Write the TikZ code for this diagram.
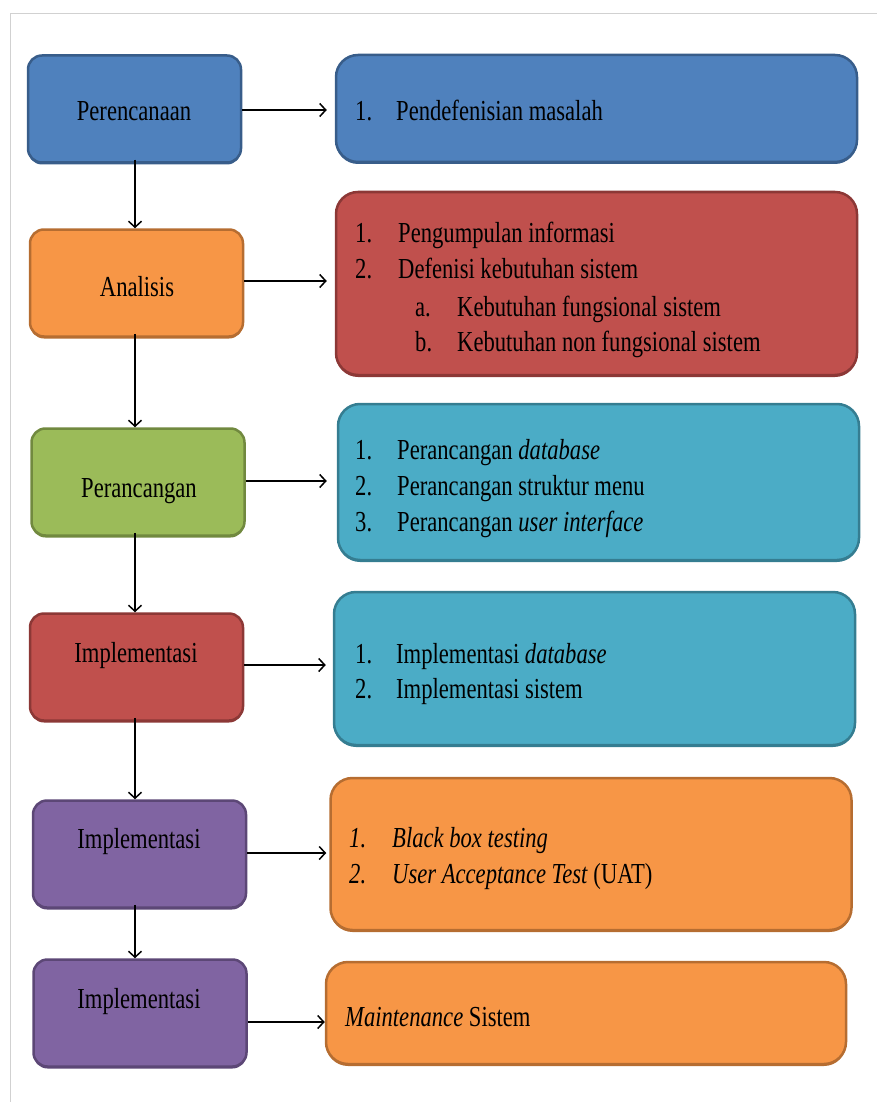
\documentclass[tikz,border=0pt]{standalone}
\usepackage{fontspec}
\setmainfont[FakeStretch=0.78]{Liberation Serif}
\usetikzlibrary{arrows.meta}
\definecolor{blueF}{HTML}{4F81BD}\definecolor{blueD}{HTML}{385D8A}
\definecolor{redF}{HTML}{C0504D}\definecolor{redD}{HTML}{8C3836}
\definecolor{orgF}{HTML}{F79646}\definecolor{orgD}{HTML}{B66D31}
\definecolor{grnF}{HTML}{9BBB59}\definecolor{grnD}{HTML}{71893F}
\definecolor{tealF}{HTML}{4BACC6}\definecolor{tealD}{HTML}{357D91}
\definecolor{purF}{HTML}{8064A2}\definecolor{purD}{HTML}{5C4776}
\tikzset{
  box/.style 2 args={draw=#2, fill=#1, line width=2.5pt, inner sep=0pt,
    preaction={fill=#2, transform canvas={yshift=-2pt}}},
  stage/.style={rounded corners=14pt, minimum width=213pt, minimum height=107pt},
  detail/.style={rounded corners=22pt, minimum width=521pt},
  txt/.style={inner sep=0pt, font=\fontsize{29}{35}\selectfont},
  arr/.style={line width=1.5pt, -{Straight Barb[length=6pt,width=13pt,line width=1.5pt]}},
}
\begin{document}
\begin{tikzpicture}[x=1pt, y=-1pt]
\useasboundingbox (0,0) rectangle (877,1102);
% thin page frame
\draw[black!18, line width=1pt] (10,1102) -- (10,14) -- (877,14);
\coordinate (spine) at (135,0);

% stages on the left
\node[box={blueF}{blueD}, stage] (s1) at (134.5,109) {};
\node[box={orgF}{orgD},  stage] (s2) at (136.5,283) {};
\node[box={grnF}{grnD},  stage] (s3) at (138,482) {};
\node[box={redF}{redD},  stage] (s4) at (136.5,667) {};
\node[box={purF}{purD},  stage] (s5) at (139.5,854) {};
\node[box={purF}{purD},  stage] (s6) at (140,1013) {};

\node[txt, anchor=base] (t1) at (134,121) {Perencanaan};
\node[txt, anchor=base] (t2) at (137,296) {Analisis};
\node[txt, anchor=base] (t3) at (139,497) {Perancangan};
\node[txt, anchor=base] (t4) at (136,662) {Implementasi};
\node[txt, anchor=base] (t5) at (139,848) {Implementasi};
\node[txt, anchor=base] (t6) at (139,1008) {Implementasi};

% activities on the right
\node[box={blueF}{blueD}, detail, minimum height=107pt] (d1) at (596.5,108.5) {};
\node[box={redF}{redD},   detail, minimum height=183pt] (d2) at (596.5,283.5) {};
\node[box={tealF}{tealD}, detail, minimum height=156pt] (d3) at (598.5,482) {};
\node[box={tealF}{tealD}, detail, minimum height=153pt] (d4) at (594.5,668.5) {};
\node[box={orgF}{orgD},   detail, minimum height=152pt] (d5) at (591,854) {};
\node[box={orgF}{orgD},   detail, minimum height=102pt, minimum width=520pt] (d6) at (586,1013) {};

\node[txt, anchor=base west] (n11) at (355,121) {1.};
\node[txt, anchor=base west] (l11) at (396,121) {Pendefenisian masalah};

\node[txt, anchor=base west] (n21) at (355,242) {1.};
\node[txt, anchor=base west] (l21) at (398,242) {Pengumpulan informasi};
\node[txt, anchor=base west] (n22) at (355,278) {2.};
\node[txt, anchor=base west] (l22) at (398,278) {Defenisi kebutuhan sistem};
\node[txt, anchor=base west] (n23) at (415,316) {a.};
\node[txt, anchor=base west] (l23) at (457,316) {Kebutuhan fungsional sistem};
\node[txt, anchor=base west] (n24) at (415,351) {b.};
\node[txt, anchor=base west] (l24) at (457,351) {Kebutuhan non fungsional sistem};

\node[txt, anchor=base west] (n31) at (355,459) {1.};
\node[txt, anchor=base west] (l31) at (397,459) {Perancangan \textit{database}};
\node[txt, anchor=base west] (n32) at (355,495) {2.};
\node[txt, anchor=base west] (l32) at (397,495) {Perancangan struktur menu};
\node[txt, anchor=base west] (n33) at (355,531) {3.};
\node[txt, anchor=base west] (l33) at (397,531) {Perancangan \textit{user interface}};

\node[txt, anchor=base west] (n41) at (355,663) {1.};
\node[txt, anchor=base west] (l41) at (396,663) {Implementasi \textit{database}};
\node[txt, anchor=base west] (n42) at (355,698) {2.};
\node[txt, anchor=base west] (l42) at (396,698) {Implementasi sistem};

\node[txt, anchor=base west] (n51) at (349,847) {\textit{1.}};
\node[txt, anchor=base west] (l51) at (392,847) {\textit{Black box testing}};
\node[txt, anchor=base west] (n52) at (349,883) {\textit{2.}};
\node[txt, anchor=base west] (l52) at (392,883) {\textit{User Acceptance Test} (UAT)};

\node[txt, anchor=base west] (l61) at (345,1026) {\textit{Maintenance} Sistem};

% flow down the stages
\draw[arr] ([yshift=4pt]s1.south -| spine) -- (s2.north -| spine);
\draw[arr] ([yshift=4pt]s2.south -| spine) -- (s3.north -| spine);
\draw[arr] ([yshift=4pt]s3.south -| spine) -- (s4.north -| spine);
\draw[arr] ([yshift=4pt]s4.south -| spine) -- (s5.north -| spine);
\draw[arr] ([yshift=4pt]s5.south -| spine) -- (s6.north -| spine);

% each stage to its activities
\draw[arr] (s1.east |- 0,110) -- ([xshift=-8pt]d1.west |- 0,110);
\draw[arr] (s2.east |- 0,281) -- ([xshift=-8pt]d2.west |- 0,281);
\draw[arr] (s3.east |- 0,481) -- ([xshift=-10pt]d3.west |- 0,481);
\draw[arr] (s4.east |- 0,665) -- ([xshift=-7pt]d4.west |- 0,665);
\draw[arr] (s5.east |- 0,853) -- ([xshift=-3pt]d5.west |- 0,853);
\draw[arr] (s6.east |- 0,1022) -- (d6.west |- 0,1022);
\end{tikzpicture}
\end{document}
